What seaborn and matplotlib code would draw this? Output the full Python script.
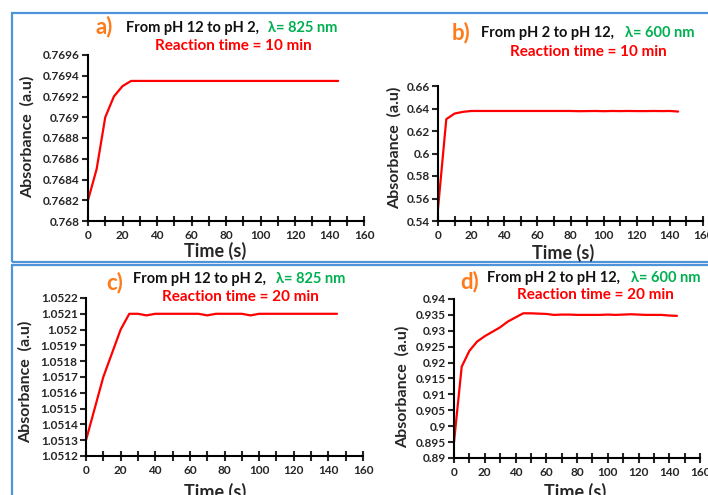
import matplotlib
matplotlib.use("Agg")
import matplotlib.pyplot as plt
import seaborn as sns
import pandas as pd
from matplotlib.patches import Rectangle
from matplotlib.ticker import MultipleLocator, FuncFormatter

# time axis shared by all four panels (s)
time_s = list(range(0, 150, 5))

# a) pH 12 -> pH 2, 825 nm, 10 min
abs_a = [0.7682, 0.7685, 0.7690, 0.7692, 0.7693, 0.76935] + [0.76935] * 24

# b) pH 2 -> pH 12, 600 nm, 10 min
abs_b = [0.551, 0.6305, 0.6355, 0.6370, 0.6378, 0.6378, 0.6378, 0.6378,
         0.6378, 0.6378, 0.6378, 0.6378, 0.6378, 0.6378, 0.6378, 0.6378,
         0.6378, 0.6376, 0.6377, 0.6378, 0.6376, 0.6378, 0.6377, 0.6378,
         0.6377, 0.6377, 0.6378, 0.6377, 0.6378, 0.6373]

# c) pH 12 -> pH 2, 825 nm, 20 min
abs_c = [1.05130, 1.05150, 1.05170, 1.05185, 1.05200, 1.05210, 1.05210,
         1.05209, 1.05210, 1.05210, 1.05210, 1.05210, 1.05210, 1.05210,
         1.05209, 1.05210, 1.05210, 1.05210, 1.05210, 1.05209, 1.05210,
         1.05210, 1.05210, 1.05210, 1.05210, 1.05210, 1.05210, 1.05210,
         1.05210, 1.05210]

# d) pH 2 -> pH 12, 600 nm, 20 min
abs_d = [0.8950, 0.9187, 0.9237, 0.9266, 0.9283, 0.9297, 0.9311, 0.9329,
         0.9342, 0.9355, 0.9355, 0.9354, 0.9353, 0.9350, 0.9351, 0.9351,
         0.9350, 0.9350, 0.9350, 0.9350, 0.9351, 0.9350, 0.9351, 0.9352,
         0.9351, 0.9350, 0.9350, 0.9350, 0.9348, 0.9347]

panel_letters = ["a)", "b)", "c)", "d)"]
panel_routes = ["From pH 12 to pH 2,", "From pH 2 to pH 12,",
                "From pH 12 to pH 2,", "From pH 2 to pH 12,"]
panel_waves = ["λ= 825 nm", "λ= 600 nm", "λ= 825 nm", "λ= 600 nm"]
panel_times = ["Reaction time = 10 min", "Reaction time = 10 min",
               "Reaction time = 20 min", "Reaction time = 20 min"]
y_limits = [(0.768, 0.7696), (0.54, 0.66), (1.0512, 1.0522), (0.89, 0.94)]
y_steps = [0.0002, 0.02, 0.0001, 0.005]

sns.set_style("ticks")
plt.rcParams["font.family"] = ["Lato", "DejaVu Sans"]
plt.rcParams["font.weight"] = "bold"

W, H = 708, 495
fig = plt.figure(figsize=(W / 100, H / 100), dpi=100)


def fx(x):
    return x / W


def fy(y):
    return 1 - y / H


# blue frames
frame = "#4f94d8"
fig.patches.append(Rectangle((fx(12), fy(262)), fx(720) - fx(12), fy(13) - fy(262),
                             transform=fig.transFigure, fill=False,
                             edgecolor=frame, linewidth=1.6))
fig.patches.append(Rectangle((fx(12), fy(510)), fx(720) - fx(12), fy(265) - fy(510),
                             transform=fig.transFigure, fill=False,
                             edgecolor=frame, linewidth=1.6))

# axes boxes in pixels: left, top, right, bottom
boxes = [(88, 55, 364, 221), (438, 86, 703, 221),
         (86, 298, 363, 456), (454, 299, 700, 458)]
series = [abs_a, abs_b, abs_c, abs_d]

# title pieces: (letter x, letter y, route x, line1 y, wave x, line2 x, line2 y)
title_pos = [(96, 27, 126, 28, 268, 155, 46),
             (452, 33, 481, 33, 625, 510, 52),
             (106, 283, 133, 279, 276, 162, 297),
             (460, 282, 487, 278, 631, 517, 295)]
ylabel_pos = [(27, 137), (394, 148), (25, 382), (402, 387)]
xlabel_pos = [(215, 251), (563, 253), (215, 492), (575, 492)]


def fmt(v, pos):
    s = f"{v:.4f}".rstrip("0").rstrip(".")
    return s


for i in range(4):
    l, t, r, b = boxes[i]
    ax = fig.add_axes([fx(l), fy(b), fx(r) - fx(l), fy(t) - fy(b)])
    df = pd.DataFrame({"Time": time_s, "Abs": series[i]})
    sns.lineplot(data=df, x="Time", y="Abs", ax=ax, color="#ff0000", linewidth=1.6)
    ax.set_xlim(0, 160)
    ax.set_ylim(*y_limits[i])
    ax.xaxis.set_major_locator(MultipleLocator(20))
    ax.xaxis.set_minor_locator(MultipleLocator(10))
    ax.yaxis.set_major_locator(MultipleLocator(y_steps[i]))
    ax.yaxis.set_major_formatter(FuncFormatter(fmt))
    ax.tick_params(axis="x", which="both", direction="inout", length=7, width=1.5,
                   labelsize=8.5, pad=3)
    ax.tick_params(axis="y", direction="out", length=4, width=1.5, labelsize=8.5, pad=2)
    for lab in ax.get_xticklabels() + ax.get_yticklabels():
        lab.set_fontweight("bold")
    sns.despine(ax=ax)
    for sp in ["left", "bottom"]:
        ax.spines[sp].set_linewidth(1.5)
        ax.spines[sp].set_color("black")
    ax.set_xlabel("")
    ax.set_ylabel("")
    ax.patch.set_alpha(0)

    lx, ly, rx, y1, wx, x2, y2 = title_pos[i]
    fig.text(fx(lx), fy(ly), panel_letters[i], color="#ff7a1a", fontsize=16,
             fontweight="bold", va="center", ha="left")
    fig.text(fx(rx), fy(y1), panel_routes[i], color="#111111", fontsize=10.5,
             fontweight="bold", va="center", ha="left")
    fig.text(fx(wx), fy(y1), panel_waves[i], color="#00b050", fontsize=10.5,
             fontweight="bold", va="center", ha="left")
    fig.text(fx(x2), fy(y2), panel_times[i], color="#ff0000", fontsize=11,
             fontweight="bold", va="center", ha="left")
    yx, yy = ylabel_pos[i]
    fig.text(fx(yx), fy(yy), "Absorbance  (a.u)", rotation=90, fontsize=11.5,
             fontweight="bold", va="center", ha="center")
    xx, xy = xlabel_pos[i]
    fig.text(fx(xx), fy(xy), "Time (s)", fontsize=13, fontweight="bold",
             va="center", ha="center")

fig.savefig("out.png", dpi=100, facecolor="white")
